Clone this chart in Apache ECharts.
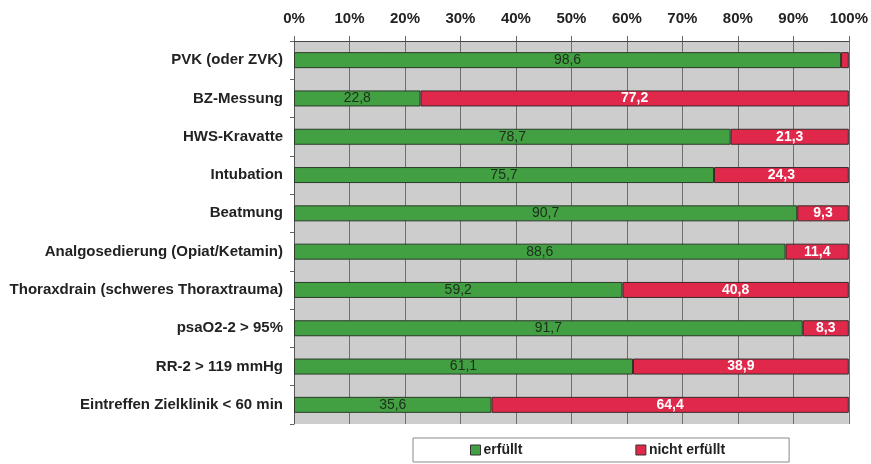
<!DOCTYPE html>
<html>
<head>
<meta charset="utf-8">
<script src="https://cdn.jsdelivr.net/npm/echarts@6/dist/echarts.min.js"></script>
<style>
  html, body { margin: 0; padding: 0; background: #ffffff; }
  #chart { width: 871px; height: 464px; }
</style>
</head>
<body>
<div id="chart"></div>
<script>
// Quality indicators (percent fulfilled / not fulfilled)
const categories = [
  'PVK (oder ZVK)',
  'BZ-Messung',
  'HWS-Kravatte',
  'Intubation',
  'Beatmung',
  'Analgosedierung (Opiat/Ketamin)',
  'Thoraxdrain (schweres Thoraxtrauma)',
  'psaO2-2 > 95%',
  'RR-2 > 119 mmHg',
  'Eintreffen Zielklinik < 60 min'
];
const erfuellt      = [98.6, 22.8, 78.7, 75.7, 90.7, 88.6, 59.2, 91.7, 61.1, 35.6];
const nichtErfuellt = [1.4, 77.2, 21.3, 24.3, 9.3, 11.4, 40.8, 8.3, 38.9, 64.4];
const seriesNames   = ['erfüllt', 'nicht erfüllt'];
const tickValues    = [0, 10, 20, 30, 40, 50, 60, 70, 80, 90, 100];

const FONT = '"Liberation Sans", Arial, sans-serif';
const fmt = v => v.toFixed(1).replace('.', ',');

const chart = echarts.init(document.getElementById('chart'), null, { renderer: 'canvas' });

chart.setOption({
  animation: false,
  backgroundColor: '#ffffff',
  textStyle: { fontFamily: FONT },
  grid: {
    left: 294, right: 19, top: 41, bottom: 40,
    show: true, backgroundColor: '#cdcdcd', borderWidth: 0
  },
  legend: {
    data: seriesNames,
    icon: 'rect',
    left: 413, bottom: 2,
    padding: [5, 64, 5, 57],
    itemGap: 113,
    itemWidth: 10, itemHeight: 10,
    borderColor: '#8a8a8a', borderWidth: 1,
    backgroundColor: '#ffffff',
    textStyle: { fontFamily: FONT, fontSize: 14, fontWeight: 'bold', color: '#222', padding: [0, 0, 0, -2] },
    itemStyle: { borderColor: '#333', borderWidth: 1 }
  },
  xAxis: {
    type: 'value',
    position: 'top',
    min: tickValues[0], max: tickValues[tickValues.length - 1], interval: 10,
    axisLine: { show: true, lineStyle: { color: '#444', width: 1 } },
    axisTick: { show: true, length: 5, lineStyle: { color: '#666' } },
    splitLine: { show: true, lineStyle: { color: '#6e6e6e', width: 1 } },
    axisLabel: {
      formatter: v => v + '%',
      fontFamily: FONT, fontSize: 15, fontWeight: 'bold', color: '#222', margin: 15
    }
  },
  yAxis: {
    type: 'category',
    data: categories,
    inverse: true,
    axisLine: { show: true, lineStyle: { color: '#555', width: 1 } },
    axisTick: { show: true, length: 4, inside: false, lineStyle: { color: '#666' } },
    axisLabel: {
      fontFamily: FONT, fontSize: 15, fontWeight: 'bold', color: '#222', margin: 11
    }
  },
  series: [
    {
      name: seriesNames[0],
      type: 'bar',
      stack: 'total',
      data: erfuellt,
      barWidth: 16,
      itemStyle: { color: '#42a042', borderColor: '#2a3a2a', borderWidth: 1 },
      label: {
        show: true, position: 'inside',
        formatter: p => fmt(p.value),
        fontFamily: FONT, fontSize: 14, color: '#1c2e1c'
      }
    },
    {
      name: seriesNames[1],
      type: 'bar',
      stack: 'total',
      data: nichtErfuellt,
      barWidth: 16,
      itemStyle: { color: '#e0284b', borderColor: '#3a2a2a', borderWidth: 1 },
      label: {
        show: true, position: 'inside',
        formatter: p => (p.value < 5 ? '' : fmt(p.value)),
        fontFamily: FONT, fontSize: 14, fontWeight: 'bold', color: '#ffffff'
      }
    }
  ]
});
</script>
</body>
</html>
